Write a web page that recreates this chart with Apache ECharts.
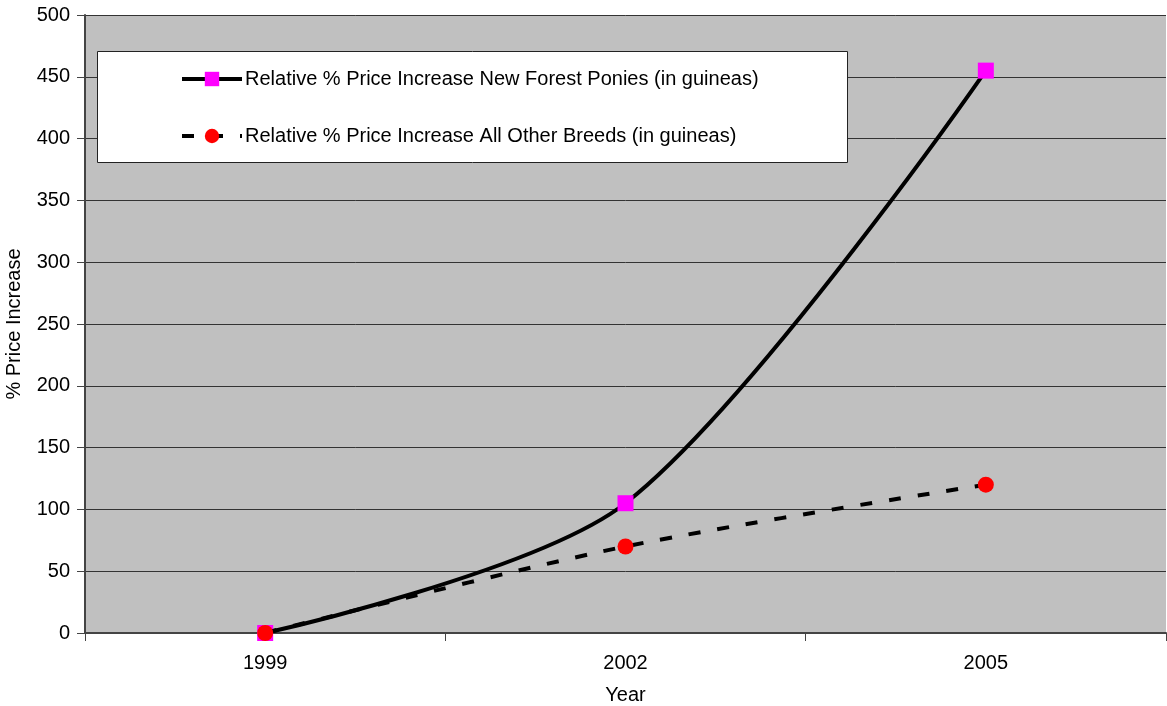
<!DOCTYPE html>
<html>
<head>
<meta charset="utf-8">
<script src="https://cdn.jsdelivr.net/npm/echarts@6/dist/echarts.min.js"></script>
<style>
  html, body { margin: 0; padding: 0; background: #ffffff; }
  #chart { width: 1167px; height: 706px; }
</style>
</head>
<body>
<div id="chart"></div>
<script>
// Years sampled and relative price increases (%), quoted in guineas
const years = ['1999', '2002', '2005'];
const newForestPonies = [0, 105, 455];
const allOtherBreeds = [0, 70, 120];
const nameNF = 'Relative % Price Increase New Forest Ponies (in guineas)';
const nameOther = 'Relative % Price Increase All Other Breeds (in guineas)';

const chart = echarts.init(document.getElementById('chart'));
const font = 'Liberation Sans, Arial, sans-serif';

chart.setOption({
  animation: false,
  backgroundColor: '#ffffff',
  grid: { left: 85, right: 1, top: 15, bottom: 73, outerBoundsMode: 'none',
          show: true, backgroundColor: '#c0c0c0', borderWidth: 0 },
  graphic: [{
    type: 'rect', z: 50,
    shape: { x: 97.5, y: 51.5, width: 750, height: 111 },
    style: { fill: '#ffffff', stroke: '#222222', lineWidth: 1 }
  }],
  legend: {
    z: 60,
    orient: 'vertical',
    left: 175, top: 64,
    itemWidth: 60, itemHeight: 18, itemGap: 37,
    itemStyle: { borderWidth: 0 },
    lineStyle: { width: 4, inactiveWidth: 4 },
    textStyle: { fontFamily: font, fontSize: 20, color: '#000000', padding: [0, 0, 0, -2] },
    data: [nameNF, nameOther]
  },
  xAxis: {
    type: 'category',
    data: years,
    boundaryGap: true,
    name: 'Year',
    nameLocation: 'middle',
    nameGap: 52,
    nameTextStyle: { fontFamily: font, fontSize: 20, color: '#000000' },
    axisLine: { lineStyle: { color: '#444444', width: 2 } },
    axisTick: { show: true, inside: false, length: 8, alignWithLabel: false, lineStyle: { color: '#444444' } },
    axisLabel: { fontFamily: font, fontSize: 20, color: '#000000', margin: 20 },
    splitLine: { show: false }
  },
  yAxis: {
    type: 'value',
    min: 0, max: 500, interval: 50,
    name: '% Price Increase',
    nameLocation: 'middle',
    nameGap: 61,
    nameRotate: 90,
    nameTextStyle: { fontFamily: font, fontSize: 20, color: '#000000' },
    axisLine: { show: true, lineStyle: { color: '#444444', width: 2 } },
    axisTick: { show: true, inside: false, length: 8, lineStyle: { color: '#444444' } },
    axisLabel: { fontFamily: font, fontSize: 20, color: '#000000', margin: 15 },
    splitLine: { show: true, lineStyle: { color: '#333333', width: 1 } }
  },
  series: [
    {
      name: nameNF,
      type: 'line',
      data: newForestPonies,
      smooth: 0.3,
      symbol: 'rect',
      symbolSize: 16,
      itemStyle: { color: '#ff00ff', borderWidth: 0 },
      lineStyle: { color: '#000000', width: 4 },
      z: 3
    },
    {
      name: nameOther,
      type: 'line',
      data: allOtherBreeds,
      smooth: 0.3,
      symbol: 'circle',
      symbolSize: 16,
      itemStyle: { color: '#ff0000', borderWidth: 0 },
      lineStyle: { color: '#000000', width: 4, type: [12, 17] },
      z: 4
    }
  ]
});
</script>
</body>
</html>
